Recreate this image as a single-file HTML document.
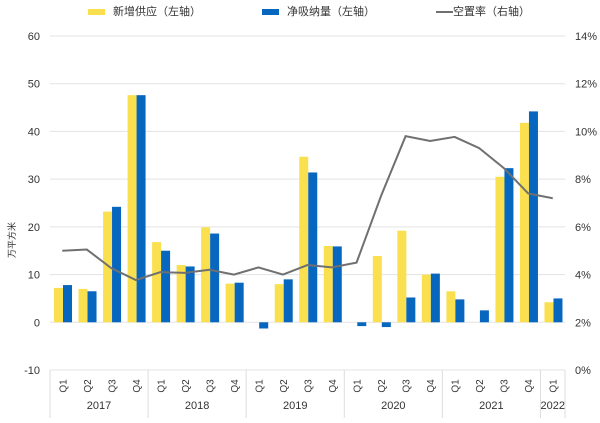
<!DOCTYPE html>
<html><head><meta charset="utf-8"><style>
body{margin:0;background:#fff;font-family:"Liberation Sans","Noto Sans CJK SC",sans-serif;}
svg text{font-family:"Liberation Sans","Noto Sans CJK SC",sans-serif;fill:#333;}
</style></head><body>
<svg id="chart" width="600" height="418"></svg>
<script>
const categories=["Q1","Q2","Q3","Q4","Q1","Q2","Q3","Q4","Q1","Q2","Q3","Q4","Q1","Q2","Q3","Q4","Q1","Q2","Q3","Q4","Q1"];
const years=["2017","2018","2019","2020","2021","2022"];
const yearCounts=[4,4,4,4,4,1];
const supply=[7.2,7.0,23.2,47.6,16.8,12.0,19.9,8.1,0,8.0,34.7,16.0,0,13.9,19.2,10.0,6.5,0,30.5,41.8,4.2];
const absorption=[7.8,6.5,24.2,47.6,15.0,11.7,18.6,8.3,-1.3,9.0,31.4,15.9,-0.8,-1.0,5.2,10.2,4.8,2.5,32.3,44.2,5.0];
const vacancy=[5.0,5.05,4.27,3.77,4.1,4.07,4.2,4.0,4.3,4.0,4.4,4.3,4.5,7.3,9.8,9.6,9.77,9.3,8.47,7.4,7.2];
const leftTicks=[-10,0,10,20,30,40,50,60];
const rightTicks=["0%","2%","4%","6%","8%","10%","12%","14%"];
const NS="http://www.w3.org/2000/svg",svg=document.getElementById('chart');
const X0=50,X1=565,YT=36,YB=370,cw=(X1-X0)/categories.length;
const yL=v=>YB-(v+10)/70*(YB-YT);
const yR=v=>YB-v/14*(YB-YT);
function mk(t,a,txt){const e=document.createElementNS(NS,t);for(const k in a)e.setAttribute(k,a[k]);if(txt!==undefined)e.textContent=txt;svg.appendChild(e);return e;}
leftTicks.forEach((v,i)=>{
 let g=mk('line',{x1:X0,x2:X1,y1:yL(v),y2:yL(v),stroke:'#e3e3e3','stroke-width':1});
 
 let t=mk('text',{x:40,y:yL(v)+4,'text-anchor':'end','font-size':11},v);
 
 let r=mk('text',{x:575,y:yL(v)+4,'font-size':11},rightTicks[i]);
 
});
categories.forEach((c,i)=>{
 const x=X0+i*cw;
 const s=supply[i],a=absorption[i];
 let b1=mk('rect',{x:x+4,y:Math.min(yL(s),yL(0)),width:9,height:Math.abs(yL(s)-yL(0)),fill:'#FAE04F'});
 
 let b2=mk('rect',{x:x+13,y:Math.min(yL(a),yL(0)),width:9,height:Math.abs(yL(a)-yL(0)),fill:'#0766BE'});
 
 let t=mk('text',{x:0,y:0,'font-size':10,'text-anchor':'middle',transform:`translate(${x+cw/2+4},386) rotate(-90)`},c);
 
});
let pts=vacancy.map((v,i)=>(X0+(i+0.5)*cw)+','+yR(v)).join(' ');
let pl=mk('polyline',{points:pts,fill:'none',stroke:'#707070','stroke-width':2});

let idx=0;
mk('line',{x1:X0,x2:X0,y1:YB,y2:418,stroke:'#ddd'});
years.forEach((y,k)=>{
 const xs=X0+idx*cw;idx+=yearCounts[k];const xe=X0+idx*cw;
 let l=mk('line',{x1:xe,x2:xe,y1:YB,y2:418,stroke:'#ddd'});
 
 let t=mk('text',{x:(xs+xe)/2,y:409,'font-size':11,'text-anchor':'middle'},y);
 
});
let yt=mk('text',{x:0,y:0,'font-size':9,'text-anchor':'middle',transform:'translate(15,240) rotate(-90)'},'万平方米');

</script>
<div style="position:absolute;left:0;top:0;width:600px;height:24px;font-size:11px;color:#333;">
 <div style="position:absolute;left:88px;top:3px;"><span style="display:inline-block;width:17px;height:6px;background:#FAE04F;margin-right:8px;vertical-align:middle"></span>新增供应（左轴）</div>
 <div style="position:absolute;left:262px;top:3px;"><span style="display:inline-block;width:17px;height:6px;background:#0766BE;margin-right:8px;vertical-align:middle"></span>净吸纳量（左轴）</div>
 <div style="position:absolute;left:436px;top:3px;"><span style="display:inline-block;width:17px;height:2px;background:#707070;vertical-align:middle"></span>空置率（右轴）</div>
</div>
</body></html>
